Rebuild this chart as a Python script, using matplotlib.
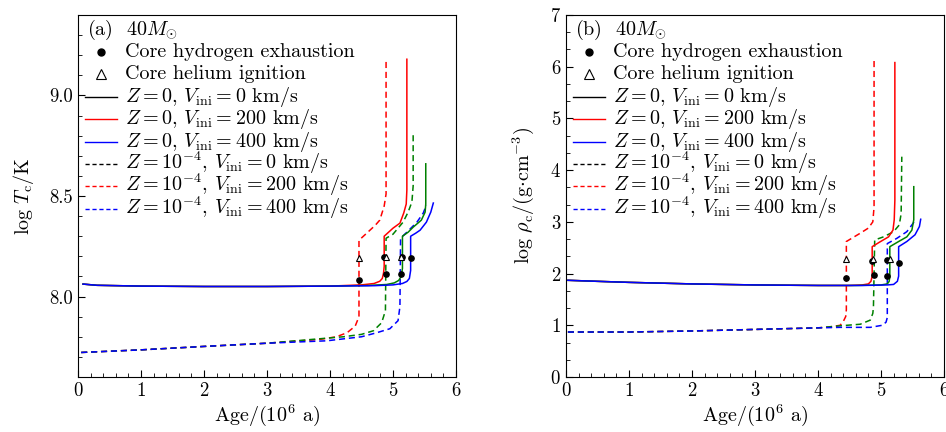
import matplotlib
matplotlib.use("Agg")
import matplotlib.pyplot as plt
from matplotlib.ticker import MultipleLocator, AutoMinorLocator

plt.rcParams['font.family'] = 'serif'
plt.rcParams['font.serif'] = ['cmr10']
plt.rcParams['mathtext.fontset'] = 'cm'
plt.rcParams['axes.formatter.use_mathtext'] = True
plt.rcParams['axes.unicode_minus'] = False

colors = ['red', 'green', 'blue']

# ---------------- Panel (a): log Tc ----------------
tc_solid_age = [
    [0.08, 0.3, 1, 2, 3, 4, 4.5, 4.7, 4.79, 4.83, 4.85, 4.86, 4.86, 4.93, 5.0, 5.11, 5.17, 5.21, 5.22, 5.22],
    [0.08, 0.3, 1, 2, 3, 4, 4.6, 4.9, 5.02, 5.09, 5.13, 5.15, 5.15, 5.24, 5.32, 5.45, 5.51, 5.52, 5.52],
    [0.08, 0.3, 1, 2, 3, 4, 4.7, 5.0, 5.15, 5.22, 5.26, 5.28, 5.28, 5.36, 5.43, 5.53, 5.6, 5.64],
]
tc_solid_val = [
    [8.062, 8.056, 8.052, 8.050, 8.050, 8.052, 8.058, 8.065, 8.076, 8.09, 8.117, 8.15, 8.30, 8.32, 8.34, 8.365, 8.415, 8.46, 8.53, 9.18],
    [8.062, 8.056, 8.052, 8.050, 8.050, 8.052, 8.055, 8.060, 8.068, 8.08, 8.10, 8.14, 8.30, 8.32, 8.345, 8.38, 8.42, 8.46, 8.66],
    [8.062, 8.056, 8.052, 8.050, 8.050, 8.052, 8.054, 8.058, 8.065, 8.075, 8.09, 8.13, 8.30, 8.315, 8.33, 8.37, 8.42, 8.465],
]
tc_dash_age = [
    [0.05, 1, 2, 3, 3.84, 4.1, 4.27, 4.40, 4.46, 4.46, 4.6, 4.72, 4.79, 4.86, 4.89, 4.89],
    [0.05, 1, 2, 3, 4.21, 4.5, 4.69, 4.82, 4.88, 4.89, 5.0, 5.16, 5.24, 5.30, 5.32, 5.32],
    [0.05, 1, 2, 3, 3.95, 4.5, 4.74, 4.95, 5.08, 5.11, 5.12, 5.22, 5.38, 5.48, 5.53],
]
tc_dash_val = [
    [7.722, 7.735, 7.752, 7.768, 7.787, 7.80, 7.82, 7.853, 7.90, 8.28, 8.32, 8.355, 8.38, 8.45, 8.51, 9.17],
    [7.722, 7.735, 7.752, 7.768, 7.80, 7.812, 7.83, 7.87, 7.93, 8.29, 8.31, 8.37, 8.42, 8.47, 8.55, 8.82],
    [7.722, 7.735, 7.752, 7.768, 7.78, 7.80, 7.82, 7.84, 7.88, 7.95, 8.29, 8.32, 8.37, 8.415, 8.455],
]
tc_dot_age = [4.46, 4.85, 4.89, 5.12, 5.15, 5.28]
tc_dot_val = [8.084, 8.198, 8.11, 8.11, 8.198, 8.19]
tc_tri_age = [4.46, 4.89, 5.13]
tc_tri_val = [8.19, 8.195, 8.195]

# ---------------- Panel (b): log rho_c ----------------
rho_solid_age = [
    [0.03, 0.5, 1, 2, 3, 4, 4.5, 4.7, 4.8, 4.84, 4.86, 4.86, 4.98, 5.12, 5.19, 5.21, 5.22, 5.22],
    [0.03, 0.5, 1, 2, 3, 4, 4.6, 5.0, 5.1, 5.13, 5.14, 5.14, 5.28, 5.41, 5.49, 5.52, 5.52],
    [0.03, 0.5, 1, 2, 3, 4, 4.7, 5.1, 5.2, 5.26, 5.28, 5.28, 5.41, 5.54, 5.61, 5.63],
]
rho_solid_val = [
    [1.87, 1.85, 1.83, 1.80, 1.78, 1.77, 1.77, 1.78, 1.80, 1.85, 1.95, 2.52, 2.61, 2.71, 2.84, 3.04, 3.42, 6.08],
    [1.87, 1.85, 1.83, 1.80, 1.78, 1.77, 1.77, 1.78, 1.80, 1.85, 1.95, 2.52, 2.62, 2.71, 2.84, 3.04, 3.68],
    [1.87, 1.85, 1.83, 1.80, 1.78, 1.77, 1.77, 1.78, 1.79, 1.85, 1.95, 2.52, 2.62, 2.75, 2.91, 3.05],
]
rho_dash_age = [
    [0.03, 1, 2, 3, 4, 4.2, 4.35, 4.40, 4.44, 4.45, 4.45, 4.67, 4.80, 4.87, 4.89, 4.89],
    [0.03, 1, 2, 3, 4, 4.35, 4.67, 4.83, 4.87, 4.88, 4.90, 5.04, 5.20, 5.29, 5.32, 5.33],
    [0.03, 1, 2, 3, 4, 4.35, 4.83, 5.02, 5.08, 5.10, 5.10, 5.25, 5.41, 5.49, 5.55],
]
rho_dash_val = [
    [0.87, 0.87, 0.89, 0.92, 0.95, 0.97, 1.00, 1.07, 1.17, 1.30, 2.62, 2.78, 2.88, 3.00, 3.29, 6.13],
    [0.87, 0.87, 0.89, 0.92, 0.95, 0.99, 1.02, 1.10, 1.23, 1.35, 2.65, 2.71, 2.81, 2.94, 3.16, 4.26],
    [0.87, 0.87, 0.89, 0.92, 0.95, 0.96, 0.96, 1.00, 1.06, 1.15, 2.58, 2.68, 2.81, 2.94, 3.04],
]
rho_dot_age = [4.45, 4.86, 4.89, 5.10, 5.10, 5.28]
rho_dot_val = [1.92, 2.25, 1.97, 2.26, 1.96, 2.21]
rho_tri_age = [4.45, 4.88, 5.14]
rho_tri_val = [2.29, 2.29, 2.29]

legend_labels = [
    'Core hydrogen exhaustion',
    'Core helium ignition',
    r'$Z=0$, $V_{\rm ini}=0$ km/s',
    r'$Z=0$, $V_{\rm ini}=200$ km/s',
    r'$Z=0$, $V_{\rm ini}=400$ km/s',
    r'$Z=10^{-4}$, $V_{\rm ini}=0$ km/s',
    r'$Z=10^{-4}$, $V_{\rm ini}=200$ km/s',
    r'$Z=10^{-4}$, $V_{\rm ini}=400$ km/s',
]
legend_colors = ['black', 'red', 'blue']

fig = plt.figure(figsize=(9.46, 4.32), dpi=100)
W, H = 946, 432
AX_L, AX_T, AX_W, AX_H = 78, 15, 378, 362
axA = fig.add_axes([AX_L / W, 1 - (AX_T + AX_H) / H, AX_W / W, AX_H / H])
axB = fig.add_axes([566 / W, 1 - (AX_T + AX_H) / H, AX_W / W, AX_H / H])

FS = 13.5
LFS = 14.5


def fx(px):
    return (px - AX_L) / AX_W


def fy(py):
    return (AX_T + AX_H - py) / AX_H


def draw(ax, sa, sv, da, dv, dta, dtv, tra, trv, panel):
    for i in range(3):
        ax.plot(da[i], dv[i], color=colors[i], lw=1.1, ls=(0, (4, 2.5)))
    for i in range(3):
        ax.plot(sa[i], sv[i], color=colors[i], lw=1.1)
    ax.plot(dta, dtv, 'o', color='black', ms=3.8, zorder=5)
    ax.plot(tra, trv, '^', mfc='white', mec='black', mew=0.8, ms=4, zorder=5)
    ax.set_xlim(0, 6)
    ax.xaxis.set_major_locator(MultipleLocator(1))
    ax.xaxis.set_minor_locator(MultipleLocator(0.2))
    ax.tick_params(which='both', direction='in', top=False, right=False, labelsize=FS)
    ax.tick_params(which='major', length=5)
    ax.tick_params(which='minor', length=3)
    ax.set_xlabel(r'Age/(10$^6$ a)', fontsize=LFS, labelpad=2)

    tr = ax.transAxes
    ax.text(fx(87), fy(30 + 5), '(%s)  $40M_{\\odot}$' % panel, transform=tr,
            fontsize=LFS, va='baseline', ha='left')
    for k, lab in enumerate(legend_labels):
        yc = 52 + 22.4 * k
        ax.text(fx(125), fy(yc + 5), lab, transform=tr, fontsize=LFS,
                va='baseline', ha='left')
        if k == 0:
            ax.plot([fx(101)], [fy(yc)], 'o', color='black', ms=5,
                    transform=tr, clip_on=False)
        elif k == 1:
            ax.plot([fx(101)], [fy(yc)], '^', mfc='white', mec='black', mew=0.8,
                    ms=7, transform=tr, clip_on=False)
        else:
            c = legend_colors[(k - 2) % 3]
            ls = '-' if k < 5 else (0, (3, 2))
            ax.plot([fx(85), fx(117)], [fy(yc), fy(yc)], color=c, lw=1.0, ls=ls,
                    transform=tr, clip_on=False)


draw(axA, tc_solid_age, tc_solid_val, tc_dash_age, tc_dash_val,
     tc_dot_age, tc_dot_val, tc_tri_age, tc_tri_val, 'a')
axA.set_ylim(7.6, 9.4)
axA.yaxis.set_major_locator(MultipleLocator(0.5))
axA.yaxis.set_minor_locator(MultipleLocator(0.1))
axA.yaxis.set_major_formatter(matplotlib.ticker.FormatStrFormatter('%.1f'))
axA.set_ylabel(r'$\log\,T_{\rm c}/{\rm K}$', fontsize=LFS, labelpad=10)

draw(axB, rho_solid_age, rho_solid_val, rho_dash_age, rho_dash_val,
     rho_dot_age, rho_dot_val, rho_tri_age, rho_tri_val, 'b')
axB.set_ylim(0, 7)
axB.yaxis.set_major_locator(MultipleLocator(1))
axB.yaxis.set_minor_locator(AutoMinorLocator(3))
axB.set_ylabel(r'$\log\,\rho_{\rm c}/({\rm g{\cdot}cm^{-3}})$', fontsize=LFS, labelpad=10)

fig.savefig('out.png', dpi=100)
